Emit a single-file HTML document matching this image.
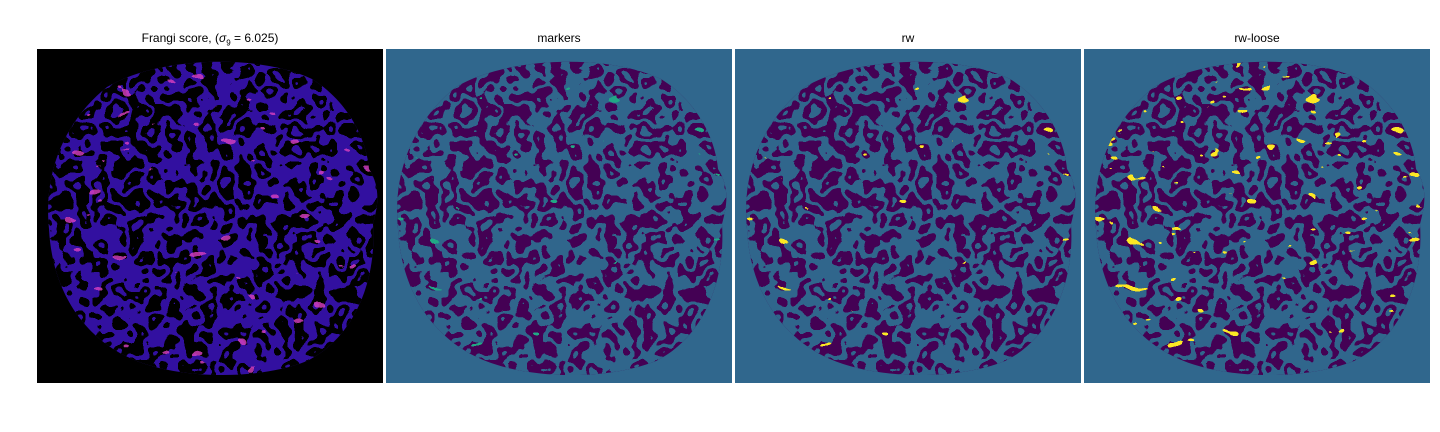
<!DOCTYPE html>
<html><head><meta charset="utf-8">
<style>
html,body{margin:0;padding:0;background:#fff;width:1440px;height:432px;overflow:hidden;font-family:"Liberation Sans",sans-serif;}
.t{position:absolute;top:31px;font-size:12px;color:#000;text-align:center;width:346px;}
svg{position:absolute;left:0;top:0;}
filter{color-interpolation-filters:sRGB;}
</style></head><body>
<div class="t" style="left:37px">Frangi score, (<i>σ</i><sub style="font-size:8px">9</sub> = 6.025)</div>
<div class="t" style="left:386px">markers</div>
<div class="t" style="left:735px">rw</div>
<div class="t" style="left:1084px">rw-loose</div>
<svg width="1440" height="432">
<defs>
 <clipPath id="blob"><path d="M70,38 C120,8 220,4 275,30 C315,55 330,95 332,120 C345,140 340,160 336,175 C340,235 315,290 270,312 C220,332 140,330 95,310 C45,288 15,240 12,180 C6,120 30,70 70,38 Z"/></clipPath>
 <filter id="chan" x="0" y="0" width="100%" height="100%" color-interpolation-filters="sRGB">
  <feTurbulence type="fractalNoise" baseFrequency="0.055" numOctaves="2" seed="4"/>
  <feColorMatrix type="matrix" values="0 0 0 0 0.19  0 0 0 0 0.40  0 0 0 0 0.55  1 0 0 0 0"/>
  <feComponentTransfer><feFuncA type="discrete" tableValues="1 1 1 0 0 1 1 0 0 1 1 1"/></feComponentTransfer>
 </filter>
 <filter id="holes" x="0" y="0" width="100%" height="100%" color-interpolation-filters="sRGB">
  <feTurbulence type="fractalNoise" baseFrequency="0.055" numOctaves="2" seed="4"/>
  <feColorMatrix type="matrix" values="0 0 0 0 0  0 0 0 0 0  0 0 0 0 0  1 0 0 0 0"/>
  <feComponentTransfer><feFuncA type="discrete" tableValues="0 0 0 1 1 0 0 1 1 0 0 0"/></feComponentTransfer>
 </filter>
 <filter id="bright" x="0" y="0" width="100%" height="100%" color-interpolation-filters="sRGB">
  <feTurbulence type="fractalNoise" baseFrequency="0.04 0.08" numOctaves="2" seed="9"/>
  <feColorMatrix type="matrix" values="0 0 0 0 0.85  0 0 0 0 0.25  0 0 0 0 0.75  1 0 0 0 0"/>
  <feComponentTransfer><feFuncA type="discrete" tableValues="0 0 0 0 0 0 0 0 0 0 0 0 0 0 0 0.8 0.8 0.8 0.8 0.8"/></feComponentTransfer>
 </filter>
 <filter id="yel1" x="0" y="0" width="100%" height="100%" color-interpolation-filters="sRGB">
  <feTurbulence type="fractalNoise" baseFrequency="0.05 0.09" numOctaves="2" seed="11"/>
  <feColorMatrix type="matrix" values="0 0 0 0 0.99  0 0 0 0 0.91  0 0 0 0 0.14  1 0 0 0 0"/>
  <feComponentTransfer><feFuncA type="discrete" tableValues="0 0 0 0 0 0 0 0 0 0 0 0 0 0 0 0 1 1 1 1"/></feComponentTransfer>
 </filter>
 <filter id="yel2" x="0" y="0" width="100%" height="100%" color-interpolation-filters="sRGB">
  <feTurbulence type="fractalNoise" baseFrequency="0.05 0.09" numOctaves="2" seed="11"/>
  <feColorMatrix type="matrix" values="0 0 0 0 0.99  0 0 0 0 0.91  0 0 0 0 0.14  1 0 0 0 0"/>
  <feComponentTransfer><feFuncA type="discrete" tableValues="0 0 0 0 0 0 0 0 0 0 0 0 0 0 0 1 1 1 1 1"/></feComponentTransfer>
 </filter>
 <filter id="grn" x="0" y="0" width="100%" height="100%" color-interpolation-filters="sRGB">
  <feTurbulence type="fractalNoise" baseFrequency="0.05 0.09" numOctaves="2" seed="11"/>
  <feColorMatrix type="matrix" values="0 0 0 0 0.13  0 0 0 0 0.66  0 0 0 0 0.52  1 0 0 0 0"/>
  <feComponentTransfer><feFuncA type="discrete" tableValues="0 0 0 0 0 0 0 0 0 0 0 0 0 0 0 0 1 1 1 1"/></feComponentTransfer>
 </filter>
</defs>
<g transform="translate(37,49)">
 <rect width="346" height="334" fill="#000"/>
 <g clip-path="url(#blob)">
  <rect width="346" height="334" fill="#3210a0"/>
  <rect width="346" height="334" filter="url(#holes)"/>
  <rect width="346" height="334" filter="url(#bright)"/>
 </g>
</g>
<g transform="translate(386,49)">
 <rect width="346" height="334" fill="#30678d"/>
 <g clip-path="url(#blob)">
  <rect width="346" height="334" fill="#440154"/>
  <rect width="346" height="334" filter="url(#chan)"/>
  <rect width="346" height="334" filter="url(#grn)"/>
 </g>
</g>
<g transform="translate(735,49)">
 <rect width="346" height="334" fill="#30678d"/>
 <g clip-path="url(#blob)">
  <rect width="346" height="334" fill="#440154"/>
  <rect width="346" height="334" filter="url(#chan)"/>
  <rect width="346" height="334" filter="url(#yel1)"/>
 </g>
</g>
<g transform="translate(1084,49)">
 <rect width="346" height="334" fill="#30678d"/>
 <g clip-path="url(#blob)">
  <rect width="346" height="334" fill="#440154"/>
  <rect width="346" height="334" filter="url(#chan)"/>
  <rect width="346" height="334" filter="url(#yel2)"/>
 </g>
</g>
</svg>
</body></html>
